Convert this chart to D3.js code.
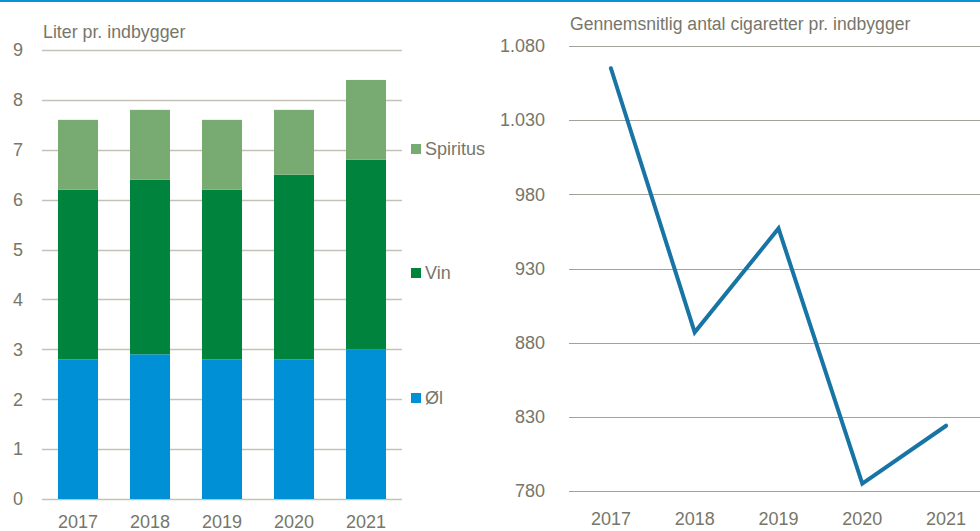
<!DOCTYPE html>
<html><head><meta charset="utf-8">
<script src="https://cdn.jsdelivr.net/npm/d3@7"></script>
<style>body{margin:0;background:#fff}svg{display:block;font-family:"Liberation Sans",Arial,sans-serif}</style>
</head><body><svg id="c" width="980" height="531"></svg>
<script>
const years = ["2017","2018","2019","2020","2021"];
const oel = [2.8, 2.9, 2.8, 2.8, 3.0];
const vin = [3.4, 3.5, 3.4, 3.7, 3.8];
const spiritus = [1.4, 1.4, 1.4, 1.3, 1.6];
const seriesNames = ["Øl","Vin","Spiritus"];
const seriesColors = ["#0090d6","#00843d","#78ab72"];
const leftTicks = [0,1,2,3,4,5,6,7,8,9];
const cigarettes = [1065, 887, 957, 785, 824];
const rightTicks = [780, 830, 880, 930, 980, 1030, 1080];

const svg = d3.select("#c");
const txt = "#77766a";
svg.append("rect").attr("x",0).attr("y",0).attr("width",980).attr("height",2).attr("fill","#0a92d4");

// Left chart
const rows = years.map((y,i)=>({year:y, "Øl":oel[i], "Vin":vin[i], "Spiritus":spiritus[i]}));
const stack = d3.stack().keys(seriesNames)(rows);
const x1 = d3.scaleBand().domain(years).range([42,402]).paddingInner(0.444).paddingOuter(0.222);
const y1 = d3.scaleLinear().domain([0,9]).range([499,50]);
const gL = svg.append("g");
gL.selectAll("line.grid").data(leftTicks).join("line")
  .attr("x1",42).attr("x2",402).attr("y1",d=>Math.round(y1(d))+0.5).attr("y2",d=>Math.round(y1(d))+0.5)
  .attr("stroke","#c4c2b6").attr("stroke-width",1.5);
gL.selectAll("text.yt").data(leftTicks).join("text")
  .attr("x",23).attr("y",d=>y1(d)).attr("dy","0.35em").attr("text-anchor","end")
  .attr("fill",txt).attr("font-size",18).text(d=>d);
stack.forEach((s,k)=>{
  gL.append("g").selectAll("rect").data(s).join("rect")
    .attr("x",d=>x1(d.data.year)).attr("width",x1.bandwidth())
    .attr("y",d=>y1(d[1])).attr("height",d=>y1(d[0])-y1(d[1]))
    .attr("fill",seriesColors[k]);
});
gL.selectAll("text.xt").data(years).join("text")
  .attr("x",d=>x1(d)+x1.bandwidth()/2).attr("y",528).attr("text-anchor","middle")
  .attr("fill",txt).attr("font-size",18).text(d=>d);
svg.append("text").attr("x",43).attr("y",38).attr("fill",txt).attr("font-size",17.8).text("Liter pr. indbygger");
const legendY = [398, 273, 149];
seriesNames.forEach((n,k)=>{
  svg.append("rect").attr("x",411).attr("y",legendY[k]-5).attr("width",10).attr("height",10).attr("fill",seriesColors[k]);
  svg.append("text").attr("x",425).attr("y",legendY[k]).attr("dy","0.35em").attr("fill",txt).attr("font-size",18).text(n);
});

// Right chart
const x2 = d3.scaleBand().domain(years).range([569,988]);
const y2 = d3.scaleLinear().domain([780,1080]).range([491,46]);
const gR = svg.append("g");
gR.selectAll("line").data(rightTicks).join("line")
  .attr("x1",569).attr("x2",980).attr("y1",d=>Math.round(y2(d))+0.5).attr("y2",d=>Math.round(y2(d))+0.5)
  .attr("stroke","#a3a29a").attr("stroke-width",1.2);
const fmt = d3.formatLocale({decimal:",",thousands:".",grouping:[3],currency:["","kr"]}).format(",d");
gR.selectAll("text.yt").data(rightTicks).join("text")
  .attr("x",545).attr("y",d=>y2(d)).attr("dy","0.35em").attr("text-anchor","end")
  .attr("fill",txt).attr("font-size",18).text(d=>fmt(d));
gR.selectAll("text.xt").data(years).join("text")
  .attr("x",d=>x2(d)+x2.bandwidth()/2).attr("y",525).attr("text-anchor","middle")
  .attr("fill",txt).attr("font-size",18).text(d=>d);
const line = d3.line().x((d,i)=>x2(years[i])+x2.bandwidth()/2).y(d=>y2(d));
gR.append("path").datum(cigarettes).attr("d",line).attr("fill","none")
  .attr("stroke","#1874a4").attr("stroke-width",4).attr("stroke-linejoin","miter").attr("stroke-linecap","round");
svg.append("text").attr("x",570).attr("y",30).attr("fill",txt).attr("font-size",17.6).text("Gennemsnitlig antal cigaretter pr. indbygger");
</script></body></html>
